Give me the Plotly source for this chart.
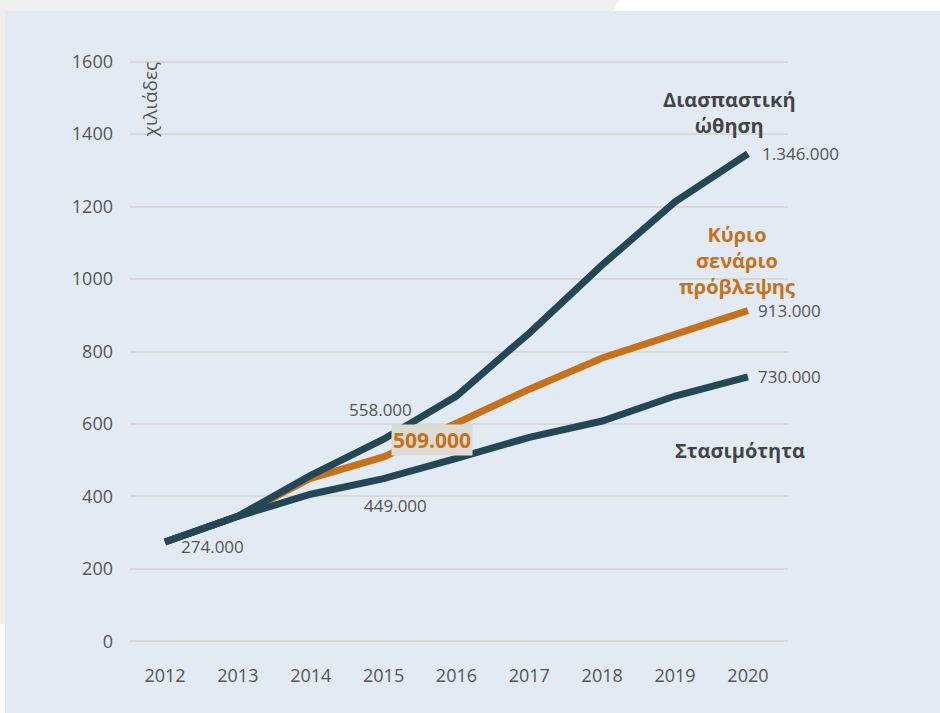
import plotly.graph_objects as go

# Data (thousands)
years = [2012, 2013, 2014, 2015, 2016, 2017, 2018, 2019, 2020]
disruptive = [274, 345, 458, 558, 677, 851, 1039, 1213, 1346]
main_scenario = [274, 345, 450, 509, 602, 696, 782, 848, 913]
stagnation = [274, 345, 406, 449, 505, 563, 608, 677, 730]
y_ticks = [0, 200, 400, 600, 800, 1000, 1200, 1400, 1600]

DARK = "#244757"
ORANGE = "#c8711a"
TEXT = "#555555"
PANEL = "#e2ebf3"

W, H = 940, 713
L, R, T, B = 130, 152, 40, 50
PW, PH = W - L - R, H - T - B


def px(x):
    return (x - L) / PW


def py(y):
    return (H - B - y) / PH


fig = go.Figure()

fig.add_trace(go.Scatter(x=years, y=main_scenario, mode="lines",
                         line=dict(color=ORANGE, width=7), hoverinfo="skip"))
fig.add_trace(go.Scatter(x=years, y=stagnation, mode="lines",
                         line=dict(color=DARK, width=7), hoverinfo="skip"))
fig.add_trace(go.Scatter(x=years, y=disruptive, mode="lines",
                         line=dict(color=DARK, width=7), hoverinfo="skip"))

# background panel shapes
gray_path = "M {} {} L {} {} L {} {} L {} {} L {} {} L {} {} Z".format(
    px(0), py(0), px(619), py(0), px(613), py(11), px(5), py(11),
    px(5), py(624), px(0), py(624))
shapes = [
    dict(type="rect", xref="paper", yref="paper", x0=px(5), y0=py(11),
         x1=px(W), y1=py(H), fillcolor=PANEL, line_width=0, layer="below"),
    dict(type="path", xref="paper", yref="paper", path=gray_path,
         fillcolor="#efefec", line_width=0, layer="below"),
]

small = dict(size=17, color=TEXT)
head = dict(size=20, color="#444444")
ann = [
    dict(x=2020, y=disruptive[-1], text="1.346.000", xanchor="left", xshift=12, font=small),
    dict(x=2020, y=main_scenario[-1], text="913.000", xanchor="left", xshift=8, font=small),
    dict(x=2020, y=stagnation[-1], text="730.000", xanchor="left", xshift=8, font=small),
    dict(x=2015, y=disruptive[3], text="558.000", yshift=30, xshift=-3, font=small),
    dict(x=2015, y=stagnation[3], text="449.000", yshift=-27, xshift=12, font=small),
    dict(x=2012, y=disruptive[0], text="274.000", yshift=-4, xshift=48, font=small),
    dict(x=2015, y=main_scenario[3], text="<b>509.000</b>", xanchor="left", xshift=7,
         yshift=17, font=dict(size=21, color=ORANGE), bgcolor="#dcdcd5", borderpad=1),
    dict(x=2019.75, y=1461, text="<b>Διασπαστική<br>ώθηση</b>", font=head),
    dict(x=2019.85, y=1050, text="<b>Κύριο<br>σενάριο<br>πρόβλεψης</b>",
         font=dict(size=20, color=ORANGE)),
    dict(x=2019.89, y=528, text="<b>Στασιμότητα</b>", font=head),
    dict(x=2011.79, y=1495, text="χιλιάδες", textangle=-90,
         font=dict(size=19, color=TEXT)),
]
for a in ann:
    a.setdefault("showarrow", False)
    a.setdefault("xref", "x")
    a.setdefault("yref", "y")

fig.update_layout(
    width=W, height=H,
    margin=dict(l=L, r=R, t=T, b=B),
    paper_bgcolor="white",
    plot_bgcolor="rgba(0,0,0,0)",
    showlegend=False,
    font=dict(family="Open Sans, sans-serif", color=TEXT),
    shapes=shapes,
    annotations=ann,
    xaxis=dict(range=[2011.52, 2020.55], tickvals=years, showgrid=False,
               zeroline=False, showline=False, ticks="",
               tickfont=dict(size=18, color=TEXT)),
    yaxis=dict(range=[-60, 1660], tickvals=y_ticks, showgrid=True,
               gridcolor="#d9d9d3", gridwidth=2, zeroline=False, showline=False,
               ticklabelstandoff=16, tickfont=dict(size=18, color=TEXT)),
)

# drop the page's default body margin so the figure sits at the window's corner
fig.write_html("out.html", config={"displayModeBar": False},
               post_script="document.body.style.margin='0';")
